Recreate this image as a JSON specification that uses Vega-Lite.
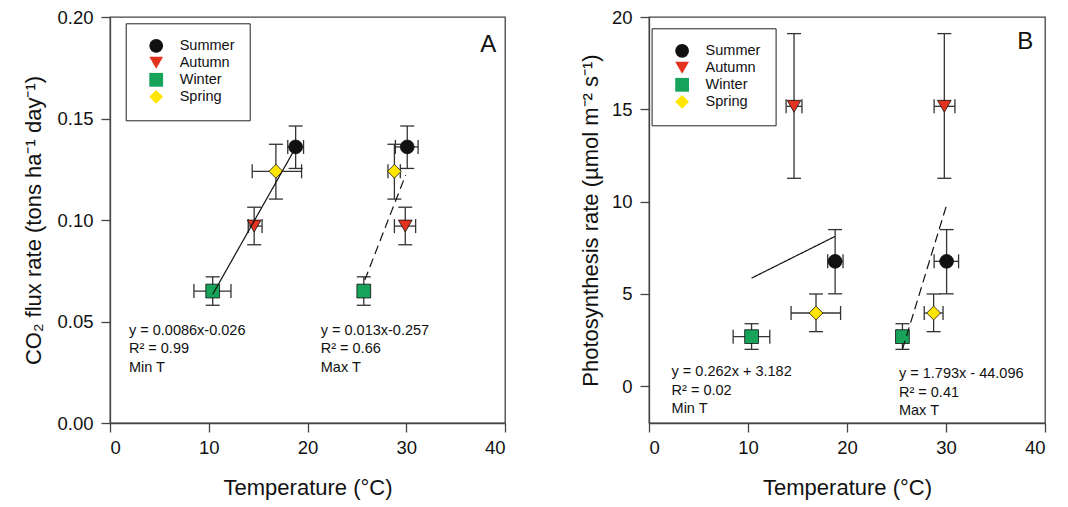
{
  "$schema": "https://vega.github.io/schema/vega-lite/v6.json",
  "background": "white",
  "padding": {"left": 22, "top": 7, "right": 5, "bottom": 5},
  "spacing": 144,
  "bounds": "flush",
  "config": {
    "font": "Liberation Sans",
    "view": {"stroke": "#444", "strokeWidth": 1.3},
    "axis": {
      "grid": false,
      "domainColor": "#444", "domainWidth": 1.3,
      "tickColor": "#444", "tickWidth": 1.3, "tickSize": 9,
      "labelFont": "Liberation Sans", "labelFontSize": 18.5, "labelColor": "#111",
      "titleFont": "Liberation Sans", "titleFontSize": 22, "titleFontWeight": "normal", "titleColor": "#111",
      "labelPadding": 8
    },
    "axisX": {"titlePadding": 21, "labelPadding": 6},
    "axisY": {"titleFontSize": 22},
    "legend": {
      "strokeColor": "#222", "fillColor": "white", "padding": 15,
      "labelFont": "Liberation Sans", "labelFontSize": 14.5, "labelColor": "#111",
      "rowPadding": 0, "symbolSize": 190, "symbolOffset": 8, "labelOffset": 16,
      "symbolStrokeColor": "#111", "symbolStrokeWidth": 0.8
    }
  },
  "datasets": {
    "fluxPts": [
      {"season": "Summer", "x": 18.8, "y": 0.136, "xlo": 18.0, "xhi": 19.6, "ylo": 0.1254, "yhi": 0.1463},
      {"season": "Autumn", "x": 14.6, "y": 0.097, "xlo": 14.0, "xhi": 15.4, "ylo": 0.0878, "yhi": 0.1063},
      {"season": "Winter", "x": 10.4, "y": 0.065, "xlo": 8.5, "xhi": 12.25, "ylo": 0.058, "yhi": 0.072},
      {"season": "Spring", "x": 16.8, "y": 0.124, "xlo": 14.4, "xhi": 19.4, "ylo": 0.1103, "yhi": 0.1373},
      {"season": "Summer", "x": 30.1, "y": 0.136, "xlo": 28.9, "xhi": 31.2, "ylo": 0.1254, "yhi": 0.1463},
      {"season": "Autumn", "x": 29.9, "y": 0.097, "xlo": 28.8, "xhi": 30.95, "ylo": 0.0878, "yhi": 0.1063},
      {"season": "Winter", "x": 25.7, "y": 0.065, "xlo": 25.1, "xhi": 26.3, "ylo": 0.058, "yhi": 0.072},
      {"season": "Spring", "x": 28.8, "y": 0.124, "xlo": 28.15, "xhi": 29.4, "ylo": 0.1103, "yhi": 0.1373}
    ],
    "fluxFit": [
      {"fit": "Min T", "x": 10.4, "y": 0.0634},
      {"fit": "Min T", "x": 18.8, "y": 0.1357},
      {"fit": "Max T", "x": 25.8, "y": 0.0704},
      {"fit": "Max T", "x": 29.94, "y": 0.1222}
    ],
    "fluxNotes": [
      {"text": "y = 0.0086x-0.026\nR² = 0.99\nMin T", "x": 1.92, "y": 0.0434},
      {"text": "y = 0.013x-0.257\nR² = 0.66\nMax T", "x": 21.34, "y": 0.0434}
    ],
    "fluxTag": [{"label": "A", "x": 38.3, "y": 0.186}],
    "photoPts": [
      {"season": "Summer", "x": 18.8, "y": 6.76, "xlo": 18.05, "xhi": 19.6, "ylo": 5.0, "yhi": 8.48},
      {"season": "Autumn", "x": 14.65, "y": 15.16, "xlo": 13.85, "xhi": 15.45, "ylo": 11.26, "yhi": 19.1},
      {"season": "Winter", "x": 10.36, "y": 2.68, "xlo": 8.5, "xhi": 12.2, "ylo": 1.99, "yhi": 3.38},
      {"season": "Spring", "x": 16.87, "y": 3.96, "xlo": 14.35, "xhi": 19.35, "ylo": 2.95, "yhi": 4.99},
      {"season": "Summer", "x": 30.06, "y": 6.76, "xlo": 28.8, "xhi": 31.27, "ylo": 5.0, "yhi": 8.48},
      {"season": "Autumn", "x": 29.83, "y": 15.16, "xlo": 28.8, "xhi": 30.9, "ylo": 11.26, "yhi": 19.1},
      {"season": "Winter", "x": 25.6, "y": 2.68, "xlo": 25.0, "xhi": 26.2, "ylo": 1.99, "yhi": 3.38},
      {"season": "Spring", "x": 28.75, "y": 3.96, "xlo": 27.8, "xhi": 29.7, "ylo": 2.95, "yhi": 4.99}
    ],
    "photoFit": [
      {"fit": "Min T", "x": 10.36, "y": 5.85},
      {"fit": "Min T", "x": 18.79, "y": 8.11},
      {"fit": "Max T", "x": 25.6, "y": 1.99},
      {"fit": "Max T", "x": 30.06, "y": 9.81}
    ],
    "photoNotes": [
      {"text": "y = 0.262x + 3.182\nR² = 0.02\nMin T", "x": 2.28, "y": 0.54},
      {"text": "y = 1.793x - 44.096\nR² = 0.41\nMax T", "x": 25.25, "y": 0.43}
    ],
    "photoTag": [{"label": "B", "x": 38.0, "y": 18.66}]
  },
  "hconcat": [
    {
      "width": 395,
      "height": 406,
      "layer": [
        {
          "data": {"name": "fluxPts"},
          "mark": {"type": "rule", "color": "#333", "strokeWidth": 1.3},
          "encoding": {
            "x": {"field": "x", "type": "quantitative", "scale": {"domain": [0, 40], "nice": false}, "axis": {"values": [0, 10, 20, 30, 40]}, "title": "Temperature (°C)"},
            "y": {"field": "ylo", "type": "quantitative", "scale": {"domain": [0, 0.2], "nice": false}, "axis": {"values": [0, 0.05, 0.1, 0.15, 0.2], "format": ".2f", "titlePadding": 11}, "title": "CO₂ flux rate (tons ha⁻¹ day⁻¹)"},
            "y2": {"field": "yhi"}
          }
        },
        {
          "data": {"name": "fluxPts"},
          "mark": {"type": "rule", "color": "#333", "strokeWidth": 1.3},
          "encoding": {
            "x": {"field": "xlo", "type": "quantitative"},
            "x2": {"field": "xhi"},
            "y": {"field": "y", "type": "quantitative"}
          }
        },
        {
          "data": {"name": "fluxPts"},
          "mark": {"type": "tick", "orient": "horizontal", "size": 14, "thickness": 1.3, "color": "#333", "opacity": 1},
          "encoding": {"x": {"field": "x", "type": "quantitative"}, "y": {"field": "ylo", "type": "quantitative"}}
        },
        {
          "data": {"name": "fluxPts"},
          "mark": {"type": "tick", "orient": "horizontal", "size": 14, "thickness": 1.3, "color": "#333", "opacity": 1},
          "encoding": {"x": {"field": "x", "type": "quantitative"}, "y": {"field": "yhi", "type": "quantitative"}}
        },
        {
          "data": {"name": "fluxPts"},
          "mark": {"type": "tick", "orient": "vertical", "size": 14, "thickness": 1.3, "color": "#333", "opacity": 1},
          "encoding": {"x": {"field": "xlo", "type": "quantitative"}, "y": {"field": "y", "type": "quantitative"}}
        },
        {
          "data": {"name": "fluxPts"},
          "mark": {"type": "tick", "orient": "vertical", "size": 14, "thickness": 1.3, "color": "#333", "opacity": 1},
          "encoding": {"x": {"field": "xhi", "type": "quantitative"}, "y": {"field": "y", "type": "quantitative"}}
        },
        {
          "data": {"name": "fluxPts"},
          "mark": {"type": "point", "filled": true, "size": 190, "stroke": "#111", "strokeWidth": 0.8, "opacity": 1},
          "encoding": {
            "x": {"field": "x", "type": "quantitative"},
            "y": {"field": "y", "type": "quantitative"},
            "fill": {"field": "season", "type": "nominal", "scale": {"domain": ["Summer", "Autumn", "Winter", "Spring"], "range": ["#111111", "#e3321d", "#17a35a", "#ffe500"]}, "legend": {"title": null, "orient": "none", "legendX": 15.7, "legendY": 6.3}},
            "shape": {"field": "season", "type": "nominal", "scale": {"domain": ["Summer", "Autumn", "Winter", "Spring"], "range": ["circle", "triangle-down", "square", "diamond"]}, "legend": {"title": null, "orient": "none", "legendX": 15.7, "legendY": 6.3}}
          }
        },
        {
          "data": {"name": "fluxFit"},
          "mark": {"type": "line", "color": "#111", "strokeWidth": 1.2},
          "encoding": {
            "x": {"field": "x", "type": "quantitative"},
            "y": {"field": "y", "type": "quantitative"},
            "detail": {"field": "fit"},
            "strokeDash": {"field": "fit", "type": "nominal", "scale": {"domain": ["Min T", "Max T"], "range": [[1, 0], [9, 5]]}, "legend": null}
          }
        },
        {
          "data": {"name": "fluxNotes"},
          "mark": {"type": "text", "align": "left", "baseline": "alphabetic", "fontSize": 14.5, "lineBreak": "\n", "lineHeight": 18.6, "color": "#111"},
          "encoding": {
            "x": {"field": "x", "type": "quantitative"},
            "y": {"field": "y", "type": "quantitative"},
            "text": {"field": "text"}
          }
        },
        {
          "data": {"name": "fluxTag"},
          "mark": {"type": "text", "align": "center", "baseline": "middle", "fontSize": 24, "color": "#111"},
          "encoding": {
            "x": {"field": "x", "type": "quantitative"},
            "y": {"field": "y", "type": "quantitative"},
            "text": {"field": "label"}
          }
        }
      ]
    },
    {
      "width": 396,
      "height": 406,
      "layer": [
        {
          "data": {"name": "photoPts"},
          "mark": {"type": "rule", "color": "#333", "strokeWidth": 1.3},
          "encoding": {
            "x": {"field": "x", "type": "quantitative", "scale": {"domain": [0, 40], "nice": false}, "axis": {"values": [0, 10, 20, 30, 40]}, "title": "Temperature (°C)"},
            "y": {"field": "ylo", "type": "quantitative", "scale": {"domain": [-2, 20], "nice": false, "zero": false}, "axis": {"values": [0, 5, 10, 15, 20], "titlePadding": 9}, "title": "Photosynthesis rate (µmol m⁻² s⁻¹)"},
            "y2": {"field": "yhi"}
          }
        },
        {
          "data": {"name": "photoPts"},
          "mark": {"type": "rule", "color": "#333", "strokeWidth": 1.3},
          "encoding": {
            "x": {"field": "xlo", "type": "quantitative"},
            "x2": {"field": "xhi"},
            "y": {"field": "y", "type": "quantitative"}
          }
        },
        {
          "data": {"name": "photoPts"},
          "mark": {"type": "tick", "orient": "horizontal", "size": 14, "thickness": 1.3, "color": "#333", "opacity": 1},
          "encoding": {"x": {"field": "x", "type": "quantitative"}, "y": {"field": "ylo", "type": "quantitative"}}
        },
        {
          "data": {"name": "photoPts"},
          "mark": {"type": "tick", "orient": "horizontal", "size": 14, "thickness": 1.3, "color": "#333", "opacity": 1},
          "encoding": {"x": {"field": "x", "type": "quantitative"}, "y": {"field": "yhi", "type": "quantitative"}}
        },
        {
          "data": {"name": "photoPts"},
          "mark": {"type": "tick", "orient": "vertical", "size": 14, "thickness": 1.3, "color": "#333", "opacity": 1},
          "encoding": {"x": {"field": "xlo", "type": "quantitative"}, "y": {"field": "y", "type": "quantitative"}}
        },
        {
          "data": {"name": "photoPts"},
          "mark": {"type": "tick", "orient": "vertical", "size": 14, "thickness": 1.3, "color": "#333", "opacity": 1},
          "encoding": {"x": {"field": "xhi", "type": "quantitative"}, "y": {"field": "y", "type": "quantitative"}}
        },
        {
          "data": {"name": "photoPts"},
          "mark": {"type": "point", "filled": true, "size": 190, "stroke": "#111", "strokeWidth": 0.8, "opacity": 1},
          "encoding": {
            "x": {"field": "x", "type": "quantitative"},
            "y": {"field": "y", "type": "quantitative"},
            "fill": {"field": "season", "type": "nominal", "scale": {"domain": ["Summer", "Autumn", "Winter", "Spring"], "range": ["#111111", "#e3321d", "#17a35a", "#ffe500"]}, "legend": {"title": null, "orient": "none", "legendX": 2.6, "legendY": 11.3}},
            "shape": {"field": "season", "type": "nominal", "scale": {"domain": ["Summer", "Autumn", "Winter", "Spring"], "range": ["circle", "triangle-down", "square", "diamond"]}, "legend": {"title": null, "orient": "none", "legendX": 2.6, "legendY": 11.3}}
          }
        },
        {
          "data": {"name": "photoFit"},
          "mark": {"type": "line", "color": "#111", "strokeWidth": 1.2},
          "encoding": {
            "x": {"field": "x", "type": "quantitative"},
            "y": {"field": "y", "type": "quantitative"},
            "detail": {"field": "fit"},
            "strokeDash": {"field": "fit", "type": "nominal", "scale": {"domain": ["Min T", "Max T"], "range": [[1, 0], [9, 5]]}, "legend": null}
          }
        },
        {
          "data": {"name": "photoNotes"},
          "mark": {"type": "text", "align": "left", "baseline": "alphabetic", "fontSize": 14.5, "lineBreak": "\n", "lineHeight": 18.6, "color": "#111"},
          "encoding": {
            "x": {"field": "x", "type": "quantitative"},
            "y": {"field": "y", "type": "quantitative"},
            "text": {"field": "text"}
          }
        },
        {
          "data": {"name": "photoTag"},
          "mark": {"type": "text", "align": "center", "baseline": "middle", "fontSize": 24, "color": "#111"},
          "encoding": {
            "x": {"field": "x", "type": "quantitative"},
            "y": {"field": "y", "type": "quantitative"},
            "text": {"field": "label"}
          }
        }
      ]
    }
  ],
  "resolve": {"scale": {"fill": "independent", "shape": "independent", "strokeDash": "independent"}}
}
